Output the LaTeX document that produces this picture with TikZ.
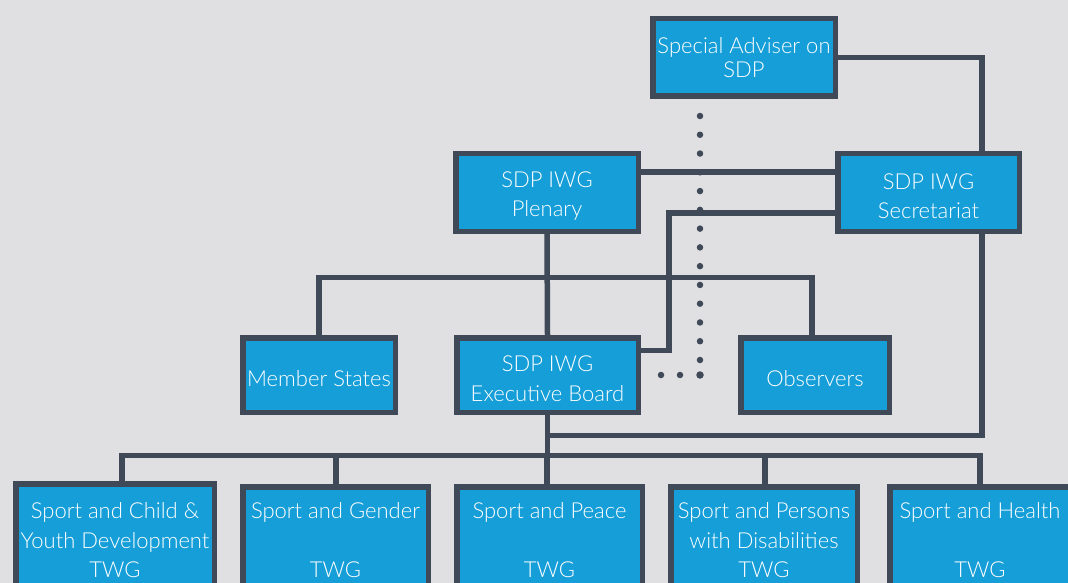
\documentclass[tikz,border=0pt]{standalone}
\usepackage{fontspec}
\IfFontExistsTF{Lato Light}{\setmainfont{Lato Light}}{\setmainfont{Lato}}
\usetikzlibrary{positioning}
\definecolor{bgGray}{RGB}{224,224,227}
\definecolor{boxBlue}{RGB}{22,158,217}
\definecolor{lineGray}{RGB}{64,73,88}
\newcommand{\dropstrut}{\rule{0pt}{23pt}}
\tikzset{orgbox/.style={draw=lineGray, fill=boxBlue, line width=5.5pt, text=white, align=center, inner sep=0pt, font=\fontsize{22}{29.5}\selectfont}}
\tikzset{orgline/.style={draw=lineGray, line width=5.5pt}}
\tikzset{dotnode/.style={shape=circle, fill=lineGray, inner sep=0pt, minimum size=6.5pt}}

\begin{document}
\begin{tikzpicture}[x=1pt,y=-1pt]
\useasboundingbox (0,0) rectangle (1068,583);
\fill[color=bgGray] (0,0) rectangle (1068,583);

% dotted link
\foreach \i in {0,...,13} \node[style=dotnode] (vdot\i) at (700,116+18.77*\i) {};
\node[style=dotnode, minimum size=7.5pt] (cdot) at (700,375) {};
\node[style=dotnode] (hdot1) at (680,375) {};
\node[style=dotnode] (hdot2) at (661,375) {};

\node[style=orgbox, minimum width=182.5pt, minimum height=77.5pt, font=\fontsize{22}{24}\selectfont] (adviser) at (744,57.5) {Special Adviser on\\SDP};
\node[style=orgbox, minimum width=182.5pt, minimum height=77.5pt] (plenary) at (547,192.5) {\dropstrut SDP IWG\\Plenary};
\node[style=orgbox, minimum width=181.5pt, minimum height=77.5pt] (secretariat) at (928.5,192.5) {\dropstrut SDP IWG\\Secretariat};
\node[style=orgbox, minimum width=152.5pt, minimum height=74.5pt] (member) at (319,375) {\dropstrut Member States};
\node[style=orgbox, minimum width=181.5pt, minimum height=74.5pt] (exec) at (547.5,375) {\dropstrut SDP IWG\\Executive Board};
\node[style=orgbox, minimum width=148.5pt, minimum height=74.5pt] (observers) at (815,375) {\dropstrut Observers};

\node[style=orgbox, minimum width=198.5pt, minimum height=113.5pt] (twg1) at (115,540.5) {Sport and Child \&\\Youth Development\\TWG};
\node[style=orgbox, minimum width=185.5pt, minimum height=107.5pt] (twg2) at (335.5,540.5) {Sport and Gender\\~\\TWG};
\node[style=orgbox, minimum width=185.5pt, minimum height=107.5pt] (twg3) at (549.5,540.5) {Sport and Peace\\~\\TWG};
\node[style=orgbox, minimum width=186.5pt, minimum height=107.5pt] (twg4) at (764,540.5) {Sport and Persons\\with Disabilities\\TWG};
\node[style=orgbox, minimum width=180.5pt, minimum height=107.5pt] (twg5) at (980,540.5) {Sport and Health\\~\\TWG};

\coordinate (secR) at (982,0);
\coordinate (plenLink) at (0,172);
\coordinate (secBend) at (669,213);
\coordinate (execBend) at (669,350.5);
\coordinate (obsDrop) at (812,277.5);
\coordinate (secLow) at (982,435.5);
\coordinate (twgL) at (122,455.5);
\coordinate (twgR) at (980,455.5);

\draw[style=orgline] (adviser.east) -| (secR |- secretariat.north);
\draw[style=orgline] (plenary.east |- plenLink) -- (secretariat.west |- plenLink);
\draw[style=orgline] (secretariat.west |- secBend) -- (secBend) -- (execBend) -- (exec.east |- execBend);
\draw[style=orgline] (plenary.south) -- (exec.north);
\draw[style=orgline] (member.north) |- (obsDrop) -- (obsDrop |- observers.north);
\draw[style=orgline] (secR |- secretariat.south) -- (secLow) -- (exec.south |- secLow);
\draw[style=orgline] (exec.south) -- (exec.south |- twgL);
\draw[style=orgline] (twgL |- twg1.north) -- (twgL) -- (twgR) -- (twgR |- twg5.north);
\foreach \n/\x in {twg2/336,twg3/547,twg4/765}
  \draw[style=orgline] (\x,455.5) -- (\n.north -| \x,0);
\end{tikzpicture}
\end{document}
